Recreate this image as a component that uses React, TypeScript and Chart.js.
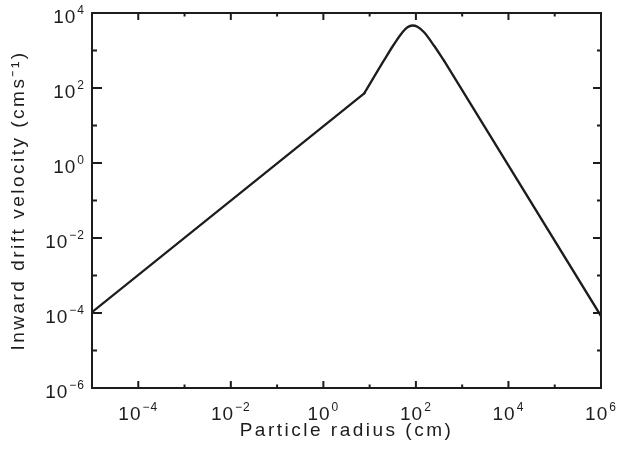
import React, { useEffect, useRef } from "react";
import { Chart, registerables } from "chart.js";

Chart.register(...registerables);

// Data (log-log)
const radiusCm = [1e-5, 7.65, 20.7, 33.9, 51.2, 65.6, 84.1, 108, 150, 247, 405, 1e6];
const driftVelocity = [1.05e-4, 72, 560, 1490, 3060, 4160, 4640, 4310, 3060, 1340, 535, 8.3e-5];

// Axis tick decades
const xMajorExponents = [-4, -2, 0, 2, 4, 6];
const xMinorExponents = [-3, -1, 1, 3, 5];
const yMajorExponents = [-6, -4, -2, 0, 2, 4];
const yMinorExponents = [-5, -3, -1, 1, 3];

const xTitle = "Particle radius (cm)";
const yTitle = "Inward drift velocity (cms\u207B\u00B9)";

const INK = "#1c1c1c";
const FONT = "'Liberation Sans', Arial, sans-serif";

function fmtExp(e: number): string {
  return e < 0 ? "\u2212" + Math.abs(e) : String(e);
}

function drawPower(ctx: CanvasRenderingContext2D, e: number, x: number, y: number, align: "center" | "right") {
  ctx.font = `19px ${FONT}`;
  const wb = ctx.measureText("10").width;
  ctx.font = `12px ${FONT}`;
  const es = fmtExp(e);
  const we = ctx.measureText(es).width;
  const gap = 1;
  const total = wb + gap + we;
  const x0 = align === "center" ? x - total / 2 : x - total;
  ctx.font = `19px ${FONT}`;
  ctx.fillText("10", x0, y);
  ctx.font = `12px ${FONT}`;
  ctx.fillText(es, x0 + wb + gap, y - 9);
}

const framePlugin = {
  id: "idlFrame",
  beforeDraw(chart: any) {
    chart.ctx.letterSpacing = "2.5px";
  },
  afterDraw(chart: any) {
    const { ctx, chartArea } = chart;
    const xs = chart.scales.x;
    const ys = chart.scales.y;
    const { left, right, top, bottom } = chartArea;
    ctx.save();
    ctx.strokeStyle = INK;
    ctx.fillStyle = INK;
    ctx.lineWidth = 2;
    ctx.lineCap = "butt";
    ctx.strokeRect(left, top, right - left, bottom - top);

    ctx.beginPath();
    const xTicks = (exps: number[], len: number) => {
      for (const e of exps) {
        const px = xs.getPixelForValue(Math.pow(10, e));
        ctx.moveTo(px, bottom);
        ctx.lineTo(px, bottom - len);
        ctx.moveTo(px, top);
        ctx.lineTo(px, top + len);
      }
    };
    const yTicks = (exps: number[], lenL: number, lenR: number) => {
      for (const e of exps) {
        const py = ys.getPixelForValue(Math.pow(10, e));
        ctx.moveTo(left, py);
        ctx.lineTo(left + lenL, py);
        ctx.moveTo(right, py);
        ctx.lineTo(right - lenR, py);
      }
    };
    xTicks(xMajorExponents, 7);
    xTicks(xMinorExponents, 3.5);
    yTicks(yMajorExponents, 10, 8);
    yTicks(yMinorExponents, 5, 4);
    ctx.stroke();

    ctx.letterSpacing = "1px";
    ctx.textAlign = "left";
    ctx.textBaseline = "alphabetic";
    for (const e of xMajorExponents) {
      const px = xs.getPixelForValue(Math.pow(10, e));
      drawPower(ctx, e, px, bottom + 32, "center");
    }
    for (const e of yMajorExponents) {
      const py = ys.getPixelForValue(Math.pow(10, e));
      drawPower(ctx, e, left - 7, py + 10, "right");
    }
    ctx.restore();
  },
};

export default function App() {
  const ref = useRef<HTMLCanvasElement | null>(null);

  useEffect(() => {
    if (!ref.current) return;
    const points = radiusCm.map((r, i) => ({ x: r, y: driftVelocity[i] }));
    const n = points.length;
    const base = {
      showLine: true,
      borderColor: INK,
      borderWidth: 2.3,
      pointRadius: 0,
      borderJoinStyle: "round",
      borderCapStyle: "round",
    };
    const chart = new Chart(ref.current, {
      type: "scatter",
      data: {
        datasets: [
          { ...base, data: points.slice(0, 2), tension: 0 } as any,
          { ...base, data: points.slice(1, n - 1), cubicInterpolationMode: "monotone" } as any,
          { ...base, data: points.slice(n - 2), tension: 0 } as any,
        ],
      },
      plugins: [framePlugin],
      options: {
        responsive: false,
        animation: false,
        layout: { padding: { left: 0, top: 13, right: 17, bottom: 0 } },
        plugins: { legend: { display: false }, tooltip: { enabled: false } },
        scales: {
          x: {
            type: "logarithmic",
            min: 1e-5,
            max: 1e6,
            ticks: { display: false },
            grid: { display: false },
            border: { display: false },
            title: {
              display: true,
              text: xTitle,
              color: INK,
              font: { family: FONT, size: 19 },
              padding: { top: 0, bottom: 7 },
            },
            afterFit: (s: any) => {
              s.height = 61;
            },
          },
          y: {
            type: "logarithmic",
            min: 1e-6,
            max: 1e4,
            ticks: { display: false },
            grid: { display: false },
            border: { display: false },
            title: {
              display: true,
              text: yTitle,
              color: INK,
              font: { family: FONT, size: 19 },
              padding: { top: 7, bottom: 0 },
            },
            afterFit: (s: any) => {
              s.width = 92;
            },
          },
        },
      } as any,
    });
    return () => chart.destroy();
  }, []);

  return (
    <div style={{ position: "absolute", left: 0, top: 0, width: 618, height: 449, background: "#fff" }}>
      <canvas ref={ref} width={618} height={449} style={{ display: "block" }} />
    </div>
  );
}
